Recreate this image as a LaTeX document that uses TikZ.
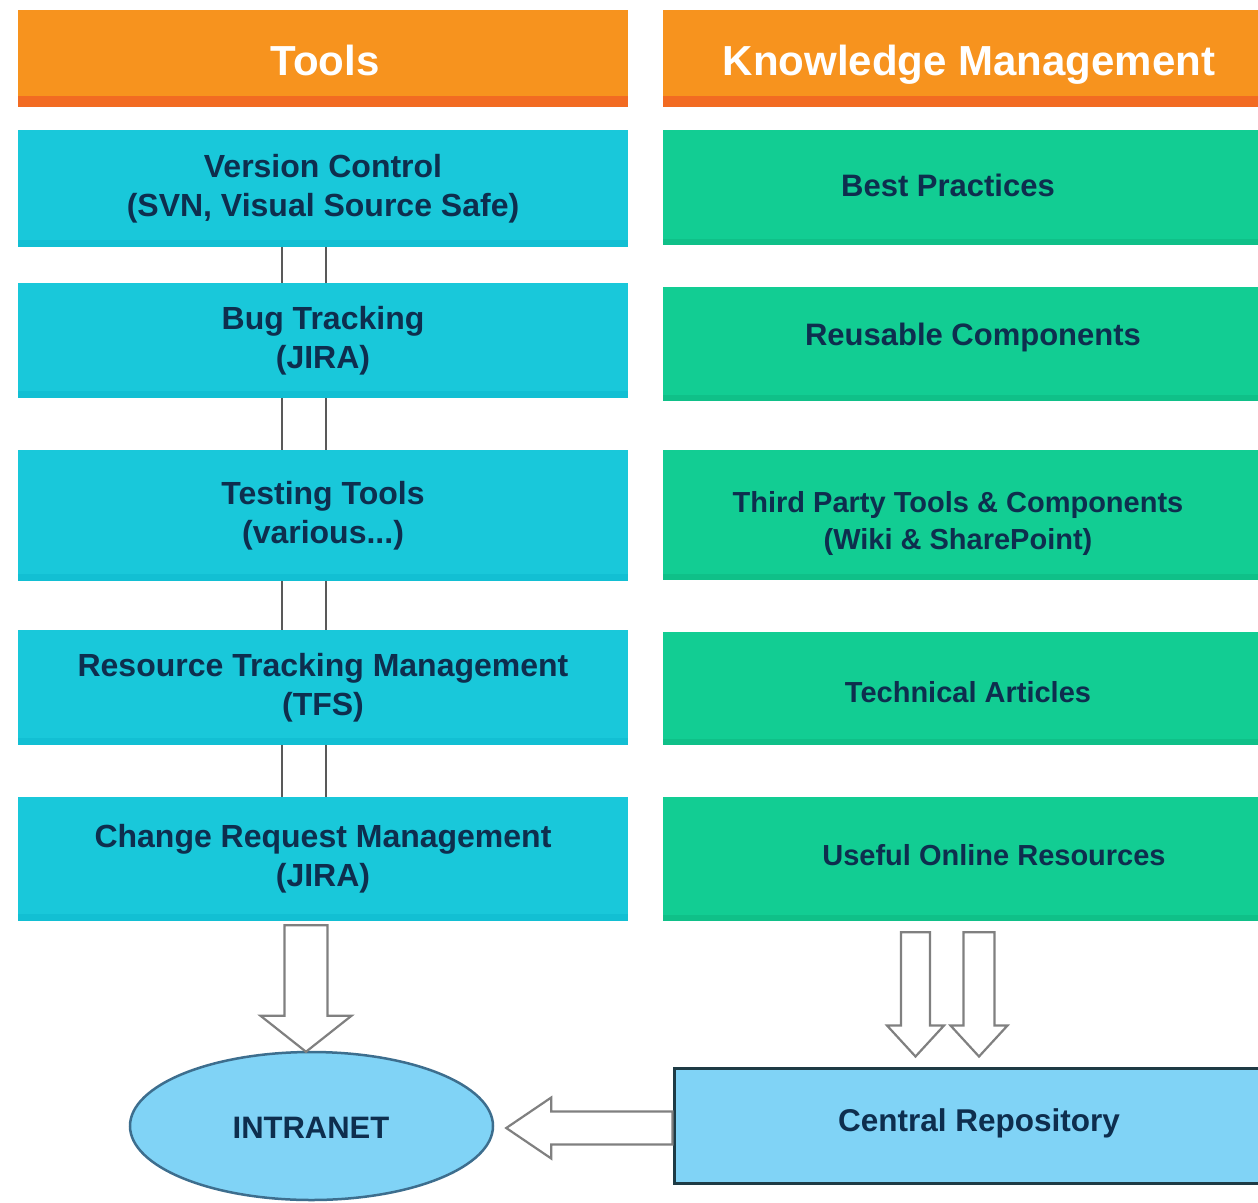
\documentclass[tikz,border=0pt]{standalone}
\usepackage{fontspec}
\setmainfont{Liberation Sans}
\usetikzlibrary{calc,shapes.geometric}
\definecolor{orangeH}{HTML}{F7931E}
\definecolor{orangeS}{HTML}{F26B22}
\definecolor{cyanB}{HTML}{19C8DA}
\definecolor{cyanS}{HTML}{12BFD3}
\definecolor{greenB}{HTML}{12CD93}
\definecolor{greenS}{HTML}{0FC088}
\definecolor{lblue}{HTML}{80D3F6}
\definecolor{navy}{HTML}{0E2E4E}
\definecolor{arrowgray}{HTML}{808080}
\definecolor{edgeblue}{HTML}{3D6E8E}
\definecolor{edgedark}{HTML}{1E3B45}
\newcommand\blkdown[5]{% #1 start, #2 tip, #3 shaft half, #4 head half, #5 head length
  \draw[blockarrow] let \p1=#1, \p2=#2 in
  (\x2-#3pt,\y1) -- (\x2+#3pt,\y1) -- (\x2+#3pt,\y2+#5pt) -- (\x2+#4pt,\y2+#5pt)
  -- (\x2,\y2) -- (\x2-#4pt,\y2+#5pt) -- (\x2-#3pt,\y2+#5pt) -- cycle;}
\newcommand\blkleft[5]{%
  \draw[blockarrow] let \p1=#1, \p2=#2 in
  (\x1,\y2-#3pt) -- (\x1,\y2+#3pt) -- (\x2+#5pt,\y2+#3pt) -- (\x2+#5pt,\y2+#4pt)
  -- (\x2,\y2) -- (\x2+#5pt,\y2-#4pt) -- (\x2+#5pt,\y2-#3pt) -- cycle;}
\tikzset{
  header/.style={fill=orangeH, minimum width=610pt, minimum height=97pt, inner sep=0pt,
    path picture={\fill[orangeS] (path picture bounding box.south west) rectangle ([yshift=11pt]path picture bounding box.south east);}},
  headtext/.style={text=white, font=\fontsize{42}{48}\selectfont\bfseries, inner sep=0pt, anchor=base},
  toolbox/.style={fill=cyanB, minimum width=610pt, inner sep=0pt, align=center, text=navy,
    font=\fontsize{32}{39}\selectfont\bfseries,
    path picture={\fill[cyanS] (path picture bounding box.south west) rectangle ([yshift=7pt]path picture bounding box.south east);}},
  kmbox/.style={fill=greenB, minimum width=597pt, inner sep=0pt,
    path picture={\fill[greenS] (path picture bounding box.south west) rectangle ([yshift=6pt]path picture bounding box.south east);}},
  kmtext/.style={text=navy, align=center, inner sep=0pt},
  conn/.style={draw=black!65, line width=2pt},
  blockarrow/.style={draw=arrowgray, line width=2.2pt, fill=white, line join=miter},
}
\begin{document}
\begin{tikzpicture}[x=1pt,y=-1pt]
\useasboundingbox (0,0) rectangle (1258,1202);
\fill[white] (0,0) rectangle (1258,1202);

% headers
\node[header] (h1) at (323,58.5) {};
\node[headtext] (h1t) at (325,75) {Tools};
\node[header, minimum width=597pt] (h2) at (961.5,58.5) {};
\node[headtext] (h2t) at (969,75) {Knowledge Management};

% tools column
\node[toolbox, minimum height=117pt] (t1) at (323,188.5) {Version Control\\(SVN, Visual Source Safe)};
\node[toolbox, minimum height=115pt] (t2) at (323,340.5) {Bug Tracking\\(JIRA)};
\node[toolbox, minimum height=131pt] (t3) at (323,515.5) {Testing Tools\\(various...)};
\node[toolbox, minimum height=115pt] (t4) at (323,687.5) {Resource Tracking Management\\(TFS)};
\node[toolbox, minimum height=124pt] (t5) at (323,859) {Change Request Management\\(JIRA)};

\foreach \a/\b in {t1/t2,t2/t3,t3/t4,t4/t5}{
  \draw[conn] ($(\a.south)+(-41,0)$) -- ($(\b.north)+(-41,0)$);
  \draw[conn] ($(\a.south)+(3,0)$) -- ($(\b.north)+(3,0)$);
}

% knowledge column
\node[kmbox, minimum height=115pt] (k1) at (961.5,187.5) {};
\node[kmbox, minimum height=114pt] (k2) at (961.5,344) {};
\node[kmbox, minimum height=130pt] (k3) at (961.5,515) {};
\node[kmbox, minimum height=113pt] (k4) at (961.5,688.5) {};
\node[kmbox, minimum height=124pt] (k5) at (961.5,859) {};
\node[kmtext, font=\fontsize{31}{38}\selectfont\bfseries] (k1t) at (948,185) {Best Practices};
\node[kmtext, font=\fontsize{31}{38}\selectfont\bfseries] (k2t) at (973,337) {Reusable Components};
\node[kmtext, font=\fontsize{29}{37}\selectfont\bfseries] (k3t) at (958,523) {Third Party Tools \& Components\\(Wiki \& SharePoint)};
\node[kmtext, font=\fontsize{29}{37}\selectfont\bfseries] (k4t) at (968,692) {Technical Articles};
\node[kmtext, font=\fontsize{29}{37}\selectfont\bfseries] (k5t) at (994,855) {Useful Online Resources};

% bottom
\node[ellipse, draw=edgeblue, line width=2.5pt, fill=lblue, minimum width=363pt, minimum height=148pt, inner sep=0pt] (intra) at (311.5,1126) {};
\node[kmtext, font=\fontsize{31}{38}\selectfont\bfseries] (intrat) at (311,1128) {INTRANET};
\node[draw=edgedark, line width=3pt, fill=lblue, minimum width=592pt, minimum height=115pt, inner sep=0pt] (repo) at (970,1125.5) {};
\node[kmtext, font=\fontsize{31.5}{38}\selectfont\bfseries] (repot) at (979,1123) {Central Repository};

% block arrows
\blkdown{($(t5.south)+(0,4)$)}{($(intra.north)+(-5.5,1)$)}{21.5}{45.5}{36}
\blkdown{($(k5.south)+(0,11)$)}{($(repo.north west)+(243,-10)$)}{14.5}{28.5}{31}
\blkdown{($(k5.south)+(0,11)$)}{($(repo.north west)+(306.5,-10)$)}{15.5}{28.5}{31}
\blkleft{(repo.west)}{($(intra.east)+(12,2)$)}{16.5}{30.5}{45}
\end{tikzpicture}
\end{document}
